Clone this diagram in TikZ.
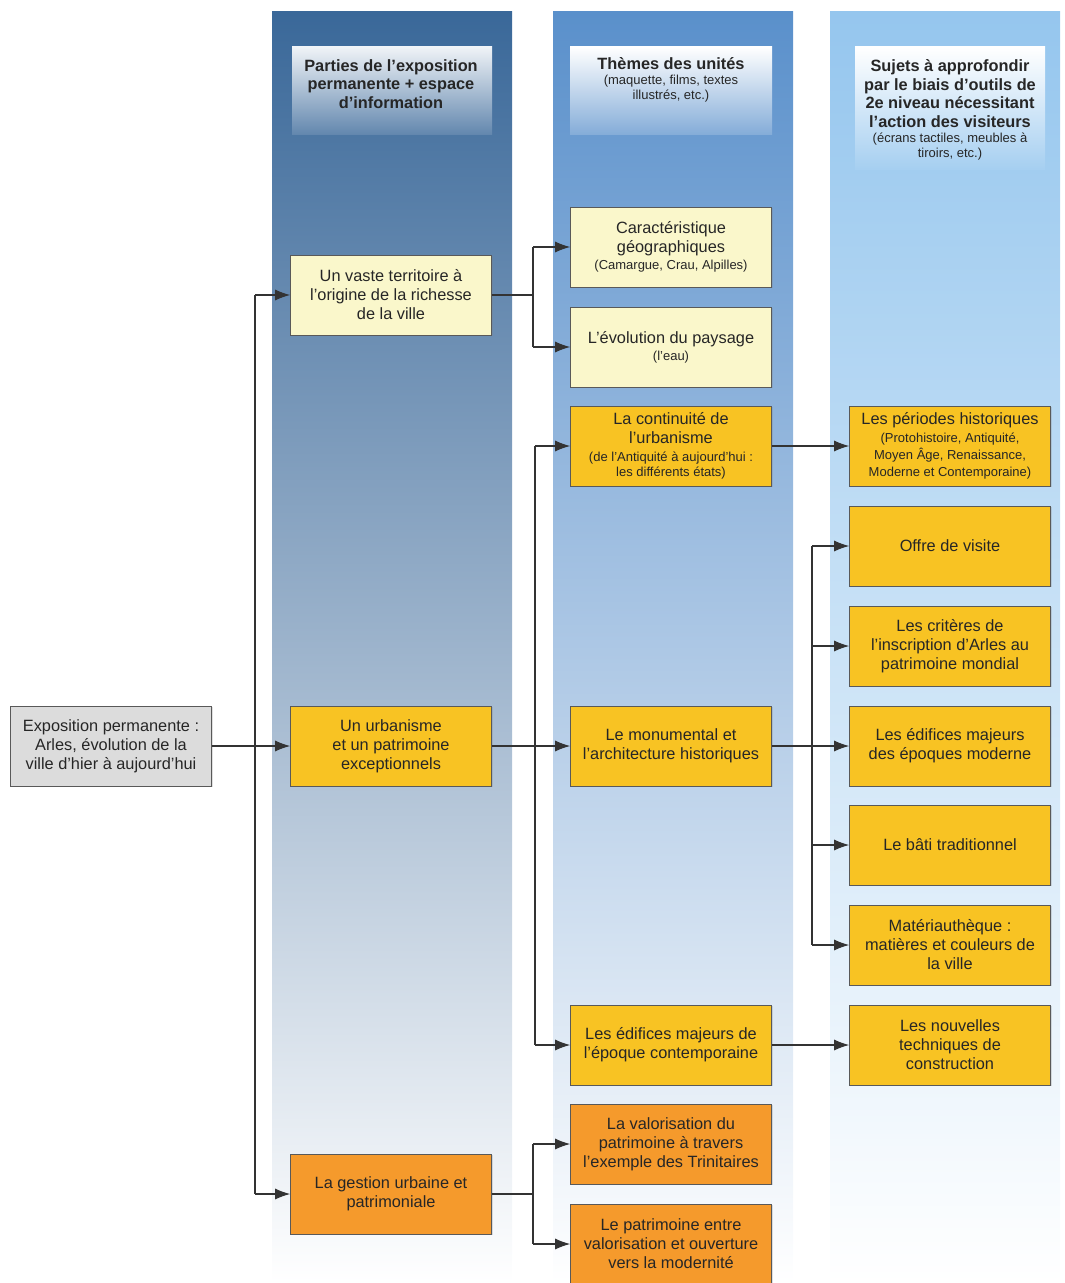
\documentclass[tikz,border=0pt]{standalone}
\usepackage{fontspec}
\setmainfont{Liberation Sans}
\usepackage{xcolor}
\usetikzlibrary{positioning,calc,arrows.meta,shadows}

\definecolor{bandA}{HTML}{3A6899}
\definecolor{bandB}{HTML}{5A90CB}
\definecolor{bandC}{HTML}{95C6EE}
\definecolor{greybox}{HTML}{DCDCDC}
\definecolor{paleyellow}{HTML}{FAF7CB}
\definecolor{yellowbox}{HTML}{F8C323}
\definecolor{orangebox}{HTML}{F59A2C}

\tikzset{
  box/.style={draw=black!65, fill=#1, minimum width=4.02cm, minimum height=1.6cm,
    align=center, inner sep=2pt, text=black!85,
    font=\fontsize{9.3}{10.8}\selectfont,
    drop shadow={shadow xshift=0.6pt, shadow yshift=-0.6pt, opacity=0.25}},
  head/.style={align=center, text=black!85, font=\fontsize{9.3}{10.6}\selectfont\bfseries},
  link/.style={draw=black!80, line width=0.6pt},
  arr/.style={link, -{Latex[length=3mm,width=2.2mm]}},
}
\newcommand{\petit}[1]{{\fontsize{7.4}{8.4}\selectfont\mdseries #1}}

\begin{document}
\begin{tikzpicture}[x=0.02cm,y=-0.02cm]
    \useasboundingbox (0,0) rectangle (1064,1283);

    % Columns
    \shade[top color=bandA, bottom color=white] (272,12) rectangle (512,1283);
    \shade[top color=bandB, bottom color=white] (553,12) rectangle (793,1283);
    \shade[top color=bandC, bottom color=white] (830,12) rectangle (1060,1283);

    % Headers
    \shade[top color=white!92!bandA, bottom color=bandA!80!white] (292,47) rectangle (492,135);
    \shade[top color=white, bottom color=bandB!75!white] (570,47) rectangle (772,135);
    \shade[top color=white, bottom color=bandC!85!white] (855,47) rectangle (1045,170);
    \node[head] (hdA) at (391,84) {Parties de l'exposition\\permanente + espace\\d'information};
    \node[head] (hdB) at (671,80) {Thèmes des unités\\[-2pt]\petit{(maquette, films, textes}\\[-2pt]\petit{illustrés, etc.)}};
    \node[head] (hdC) at (950,110) {Sujets à approfondir\\par le biais d'outils de\\2e niveau nécessitant\\l'action des visiteurs\\[-2pt]\petit{(écrans tactiles, meubles à}\\[-2pt]\petit{tiroirs, etc.)}};

    % Root
    \node[box=greybox] (root) at (111,746) {Exposition permanente :\\Arles, évolution de la\\ville d'hier à aujourd'hui};

    % Parts
    \node[box=paleyellow] (partA) at (391,295) {Un vaste territoire à\\l'origine de la richesse\\de la ville};
    \node[box=yellowbox] (partB) at (391,746) {Un urbanisme\\et un patrimoine\\exceptionnels};
    \node[box=orangebox] (partC) at (391,1194) {La gestion urbaine et\\patrimoniale};

    % Themes
    \node[box=paleyellow] (themeA) at (671,247) {Caractéristique\\géographiques\\[-1pt]\petit{(Camargue, Crau, Alpilles)}};
    \node[box=paleyellow] (themeB) at (671,347) {L'évolution du paysage\\[-1pt]\petit{(l'eau)}};
    \node[box=yellowbox] (themeC) at (671,446) {La continuité de\\l'urbanisme\\[-1pt]\petit{(de l'Antiquité à aujourd'hui :}\\[-2pt]\petit{les différents états)}};
    \node[box=yellowbox] (themeD) at (671,746) {Le monumental et\\l'architecture historiques};
    \node[box=yellowbox] (themeE) at (671,1045) {Les édifices majeurs de\\l'époque contemporaine};
    \node[box=orangebox] (themeF) at (671,1144) {La valorisation du\\patrimoine à travers\\l'exemple des Trinitaires};
    \node[box=orangebox] (themeG) at (671,1244) {Le patrimoine entre\\valorisation et ouverture\\vers la modernité};

    % Subjects
    \node[box=yellowbox] (sujA) at (950,446) {Les périodes historiques\\[-1pt]\petit{(Protohistoire, Antiquité,}\\[-1pt]\petit{Moyen Âge, Renaissance,}\\[-1pt]\petit{Moderne et Contemporaine)}};
    \node[box=yellowbox] (sujB) at (950,546) {Offre de visite};
    \node[box=yellowbox] (sujC) at (950,646) {Les critères de\\l'inscription d'Arles au\\patrimoine mondial};
    \node[box=yellowbox] (sujD) at (950,746) {Les édifices majeurs\\des époques moderne};
    \node[box=yellowbox] (sujE) at (950,845) {Le bâti traditionnel};
    \node[box=yellowbox] (sujF) at (950,945) {Matériauthèque :\\matières et couleurs de\\la ville};
    \node[box=yellowbox] (sujG) at (950,1045) {Les nouvelles\\techniques de\\construction};

    % Root to parts
    \coordinate (j0) at (255,746);
    \draw[link] (root.east) -- (j0);
    \draw[link] (j0 |- partA.west) -- (j0 |- partC.west);
    \foreach \n in {partA,partB,partC}
        \draw[arr] (j0 |- \n.west) -- (\n.west);

    % Parts to themes
    \coordinate (j1) at (533,295);
    \draw[link] (partA.east) -- (j1);
    \draw[link] (j1 |- themeA.west) -- (j1 |- themeB.west);
    \foreach \n in {themeA,themeB}
        \draw[arr] (j1 |- \n.west) -- (\n.west);

    \coordinate (j2) at (535,746);
    \draw[link] (partB.east) -- (j2);
    \draw[link] (j2 |- themeC.west) -- (j2 |- themeE.west);
    \foreach \n in {themeC,themeD,themeE}
        \draw[arr] (j2 |- \n.west) -- (\n.west);

    \coordinate (j3) at (533,1194);
    \draw[link] (partC.east) -- (j3);
    \draw[link] (j3 |- themeF.west) -- (j3 |- themeG.west);
    \foreach \n in {themeF,themeG}
        \draw[arr] (j3 |- \n.west) -- (\n.west);

    % Themes to subjects
    \draw[arr] (themeC.east) -- (sujA.west);
    \draw[arr] (themeE.east) -- (sujG.west);
    \coordinate (j4) at (812,746);
    \draw[link] (themeD.east) -- (j4);
    \draw[link] (j4 |- sujB.west) -- (j4 |- sujF.west);
    \foreach \n in {sujB,sujC,sujD,sujE,sujF}
        \draw[arr] (j4 |- \n.west) -- (\n.west);
\end{tikzpicture}
\end{document}
